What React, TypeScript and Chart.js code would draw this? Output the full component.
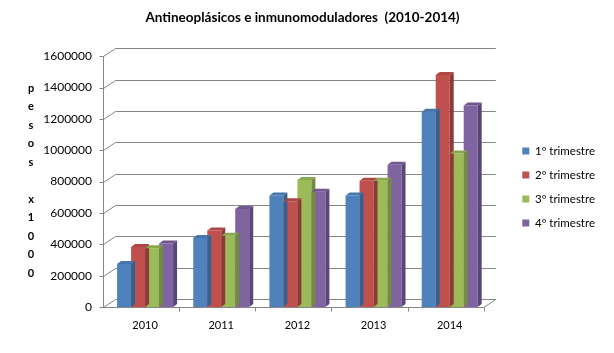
import React, { useEffect, useRef } from 'react';
import { Chart, registerables } from 'chart.js';

Chart.register(...registerables);

const titleText = 'Antineoplásicos e inmunomoduladores  (2010-2014)';
const categories = ['2010', '2011', '2012', '2013', '2014'];
const seriesNames = ['1º trimestre', '2º trimestre', '3º trimestre', '4º trimestre'];
const q1 = [275000, 440000, 712000, 712000, 1245000];
const q2 = [382000, 488000, 675000, 805000, 1480000];
const q3 = [375000, 455000, 810000, 805000, 980000];
const q4 = [405000, 625000, 735000, 908000, 1285000];
const yTitleLetters = ['p', 'e', 's', 'o', 's', '', 'x', '1', '0', '0', '0'];
const yMax = 1600000;
const yStep = 200000;

const frontColors = ['#4F81BD', '#C0504D', '#9BBB59', '#8064A2'];
const sideColors = ['#38608F', '#8E3A38', '#728B40', '#5C4679'];
const topColors = ['#4674AC', '#AE4744', '#89A74E', '#70578F'];

const FONT = 'Lato, "Open Sans", sans-serif';

const frame3d = {
  id: 'frame3d',
  beforeDatasetsDraw(chart: any) {
    const { ctx, chartArea: ca, scales } = chart;
    const y = scales.y;
    const x = scales.x;
    const axX = Math.round(ca.left - 4) + 0.5;
    const WX = 12;
    const WY = 8;
    const backRight = ca.right + 8;
    const frontRight = ca.right - 4;
    ctx.save();
    ctx.strokeStyle = '#868686';
    ctx.lineWidth = 1;
    ctx.beginPath();
    for (let v = 0; v <= yMax; v += yStep) {
      const yy = Math.round(y.getPixelForValue(v)) + 0.5;
      ctx.moveTo(axX + WX, yy - WY);
      ctx.lineTo(backRight, yy - WY);
      ctx.moveTo(axX, yy);
      ctx.lineTo(axX + WX, yy - WY);
      ctx.moveTo(axX - 4, yy);
      ctx.lineTo(axX, yy);
    }
    const bottom = Math.round(y.getPixelForValue(0)) + 0.5;
    const top = Math.round(y.getPixelForValue(yMax)) + 0.5;
    ctx.moveTo(axX, top);
    ctx.lineTo(axX, bottom);
    ctx.moveTo(axX, bottom);
    ctx.lineTo(frontRight, bottom);
    ctx.lineTo(backRight, bottom - WY);
    for (let i = 1; i <= categories.length; i++) {
      const bx = Math.round(x.getPixelForValue(i - 0.5) - 4) + 0.5;
      ctx.moveTo(bx, bottom);
      ctx.lineTo(bx, bottom + 4);
    }
    ctx.stroke();

    // vertical axis title (stacked letters)
    ctx.fillStyle = '#000';
    ctx.font = 'bold 11px ' + FONT;
    ctx.textAlign = 'center';
    ctx.textBaseline = 'middle';
    const startY = 88;
    const stepY = 18.5;
    yTitleLetters.forEach((ch, i) => {
      if (ch) ctx.fillText(ch, 31, startY + i * stepY);
    });
    ctx.restore();
  },
  afterDatasetsDraw(chart: any) {
    const { ctx } = chart;
    const DX = 4;
    const DY = 3;
    ctx.save();
    chart.data.datasets.forEach((ds: any, di: number) => {
      const meta = chart.getDatasetMeta(di);
      meta.data.forEach((bar: any) => {
        const { x, y, base, width } = bar.getProps(['x', 'y', 'base', 'width'], true);
        const l = x - width / 2;
        const r = x + width / 2;
        ctx.fillStyle = topColors[di];
        ctx.beginPath();
        ctx.moveTo(l, y);
        ctx.lineTo(l + DX, y - DY);
        ctx.lineTo(r + DX, y - DY);
        ctx.lineTo(r, y);
        ctx.closePath();
        ctx.fill();
        ctx.fillStyle = sideColors[di];
        ctx.beginPath();
        ctx.moveTo(r, y);
        ctx.lineTo(r + DX, y - DY);
        ctx.lineTo(r + DX, base - DY);
        ctx.lineTo(r, base);
        ctx.closePath();
        ctx.fill();
      });
    });
    ctx.restore();
  },
};

export default function App() {
  const ref = useRef<HTMLCanvasElement | null>(null);
  useEffect(() => {
    if (!ref.current) return;
    const series = [q1, q2, q3, q4];
    const chart = new Chart(ref.current, {
      type: 'bar',
      data: {
        labels: categories,
        datasets: series.map((d, i) => ({
          label: seriesNames[i],
          data: d,
          backgroundColor: frontColors[i],
          borderWidth: 0,
          categoryPercentage: 0.735,
          barPercentage: 1,
        })),
      },
      options: {
        responsive: false,
        animation: false,
        devicePixelRatio: 1,
        layout: { padding: { top: 0, bottom: 0, left: 0, right: 9 } },
        plugins: {
          title: {
            display: true,
            text: titleText,
            color: '#000',
            font: { family: FONT, size: 13.5, weight: 'bold' },
            padding: { top: 10, bottom: 30 },
          },
          legend: {
            position: 'right',
            title: {
              display: true,
              text: ' ',
              font: { family: FONT, size: 10 },
              padding: { top: 0, bottom: 9 },
            },
            labels: {
              color: '#000',
              font: { family: FONT, size: 11.5 },
              boxWidth: 7,
              boxHeight: 7,
              padding: 12.5,
            },
          },
          tooltip: { enabled: false },
        },
        scales: {
          x: {
            grid: { display: false, drawTicks: false },
            border: { display: false },
            ticks: { color: '#000', font: { family: FONT, size: 11 }, padding: 12 },
            afterFit: (s: any) => { s.height = 46; },
          },
          y: {
            min: 0,
            max: yMax,
            grid: { display: false, drawTicks: false },
            border: { display: false },
            ticks: {
              stepSize: yStep,
              color: '#000',
              font: { family: FONT, size: 12 },
              padding: 15,
              callback: (v: any) => String(v),
            },
            afterFit: (s: any) => { s.width = 107; },
          },
          yR: {
            type: 'linear',
            position: 'right',
            grid: { display: false, drawTicks: false },
            border: { display: false },
            ticks: { display: false },
            afterFit: (s: any) => { s.width = 22; },
          },
        },
      },
      plugins: [frame3d],
    } as any);
    return () => chart.destroy();
  }, []);
  return (
    <div style={{ position: 'fixed', left: 0, top: 0, width: 614, height: 353, background: '#fff' }}>
      <canvas ref={ref} width={614} height={353} />
    </div>
  );
}
